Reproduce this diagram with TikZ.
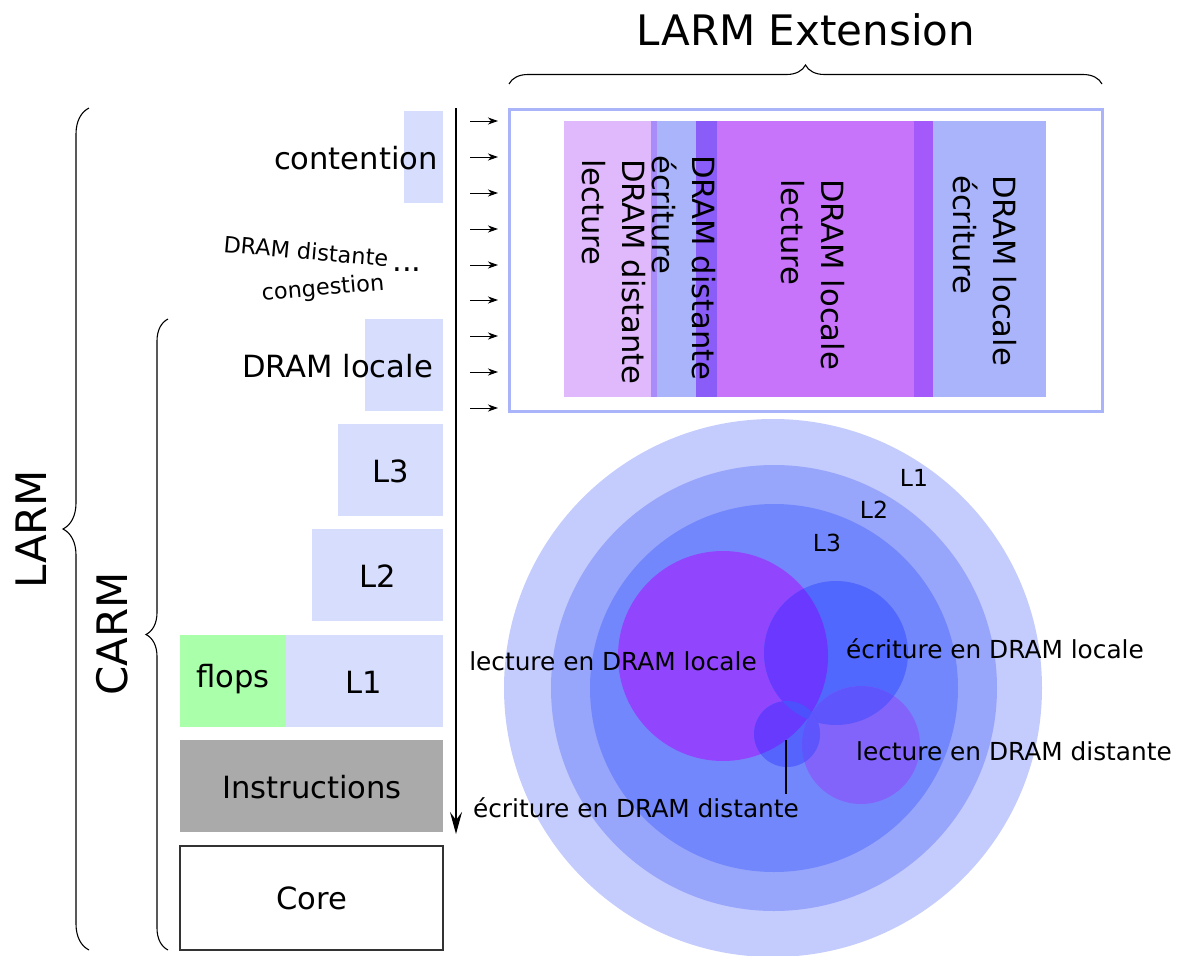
\documentclass[tikz,border=0pt]{standalone}
\usepackage{fontspec}
\setmainfont{DejaVu Sans}
\usetikzlibrary{decorations.pathreplacing,arrows.meta}
\definecolor{lav}{RGB}{215,221,252}
\definecolor{flopgreen}{RGB}{170,255,170}
\definecolor{instgray}{RGB}{170,170,170}
\definecolor{coreedge}{RGB}{51,51,51}
\definecolor{frameblue}{RGB}{170,180,248}
\definecolor{colpink}{RGB}{224,184,252}
\definecolor{colstripA}{RGB}{167,140,250}
\definecolor{colblue}{RGB}{170,180,250}
\definecolor{colstripB}{RGB}{138,92,248}
\definecolor{colmag}{RGB}{199,116,250}
\definecolor{colstripC}{RGB}{164,90,250}
\definecolor{ringA}{RGB}{196,203,253}
\definecolor{ringB}{RGB}{151,165,251}
\definecolor{ringC}{RGB}{115,135,252}
\definecolor{cP}{RGB}{145,70,253}
\definecolor{cEL}{RGB}{80,104,253}
\definecolor{cPEL}{RGB}{106,56,254}
\definecolor{cLD}{RGB}{130,100,251}
\definecolor{cELLD}{RGB}{94,86,252}
\definecolor{cED}{RGB}{84,100,252}
\definecolor{cEDP}{RGB}{104,58,254}
\definecolor{cEDEL}{RGB}{76,80,253}
\begin{document}
\begin{tikzpicture}[x=1pt,y=-1pt,
  rbox/.style={draw=none,inner sep=0pt,outer sep=0pt,anchor=north west},
  big/.style={font=\fontsize{30.6}{38}\selectfont,inner sep=0pt},
  colt/.style={font=\fontsize{30.6}{40}\selectfont,inner sep=0pt,rotate=-90,anchor=west,align=left},
  huge/.style={font=\fontsize{42}{50}\selectfont,inner sep=0pt},
  mid/.style={font=\fontsize{24.8}{30}\selectfont,inner sep=0pt},
  lvl/.style={font=\fontsize{23.5}{28}\selectfont,inner sep=0pt},
  tilt/.style={font=\fontsize{22.4}{27}\selectfont,inner sep=0pt},
  bracestyle/.style={decorate,line width=1.1pt},
  smallarrow/.style={line width=1pt,-{Stealth[length=10pt,width=7pt,inset=3pt]}},
  mainarrow/.style={line width=1.5pt,-{Stealth[length=22pt,width=12pt,inset=8pt]}}]
\useasboundingbox (0,0) rectangle (1187,956);

% ---------- left stack ----------
\node[rbox,fill=white,draw=coreedge,line width=1.5pt,minimum width=263pt,minimum height=104pt] (core) at (180,846) {};
\node[big] (coret) at (312,898) {Core};
\node[rbox,fill=instgray,minimum width=263pt,minimum height=92pt] (instr) at (180,740) {};
\node[big] (instrt) at (312,787) {Instructions};
\node[rbox,fill=flopgreen,minimum width=106pt,minimum height=92pt] (flops) at (180,635) {};
\node[big] (flopst) at (233,679) {flops};
\node[rbox,fill=lav,minimum width=157pt,minimum height=92pt] (lone) at (286,635) {};
\node[big] (lonet) at (364,682) {L1};
\node[rbox,fill=lav,minimum width=131pt,minimum height=92pt] (ltwo) at (312,529) {};
\node[big] (ltwot) at (378,576) {L2};
\node[rbox,fill=lav,minimum width=105pt,minimum height=92pt] (lthree) at (338,424) {};
\node[big] (lthreet) at (391,471) {L3};
\node[rbox,fill=lav,minimum width=78pt,minimum height=92pt] (dram) at (365,319) {};
\node[big,anchor=east] (dramt) at (433,366) {DRAM locale};
\node[rbox,fill=lav,minimum width=39pt,minimum height=92pt] (cont) at (404,111) {};
\node[big,anchor=east] (contt) at (438,158) {contention};
\node[tilt,rotate=-5] (distt) at (306,251) {DRAM distante};
\node[tilt,rotate=5] (congt) at (323,289) {congestion};
\node[big] (dots) at (407,270) {...};

% ---------- braces ----------
\node[huge,rotate=90] (larm) at (31,529) {LARM};
\node[huge,rotate=90] (carm) at (112,634) {CARM};
\coordinate (larmtop) at (89,108);
\coordinate (larmbot) at (89,950);
\draw[bracestyle,decoration={brace,amplitude=26pt}] (larmbot) -- (larmtop);
\coordinate (carmtop) at (168,319);
\coordinate (carmbot) at (168,950);
\draw[bracestyle,decoration={brace,amplitude=22pt}] (carmbot) -- (carmtop);
\coordinate (extleft) at (509,84);
\coordinate (extright) at (1102,84);
\draw[bracestyle,decoration={brace,amplitude=19pt}] (extleft) -- (extright);
\node[huge] (extt) at (806,30) {LARM Extension};

% ---------- arrows ----------
\coordinate (atop) at (456,108);
\coordinate (abot) at (456,834);
\draw[mainarrow] (atop) -- (abot);
\foreach \i/\yy in {1/121,2/157,3/193,4/229,5/265,6/300,7/336,8/372,9/408}{
  \coordinate (sa\i) at (470,\yy);
  \coordinate (sb\i) at (498,\yy);
  \draw[smallarrow] (sa\i) -- (sb\i);
}

% ---------- extension box ----------
\node[rbox,fill=colpink,minimum width=87pt,minimum height=276pt] (cpink) at (564,121) {};
\node[rbox,fill=colstripA,minimum width=6pt,minimum height=276pt] (csa) at (651,121) {};
\node[rbox,fill=colblue,minimum width=39pt,minimum height=276pt] (cblue) at (657,121) {};
\node[rbox,fill=colstripB,minimum width=21pt,minimum height=276pt] (csb) at (696,121) {};
\node[rbox,fill=colmag,minimum width=197pt,minimum height=276pt] (cmag) at (717,121) {};
\node[rbox,fill=colstripC,minimum width=19pt,minimum height=276pt] (csc) at (914,121) {};
\node[rbox,fill=colblue,minimum width=113pt,minimum height=276pt] (cblue2) at (933,121) {};
\node[rbox,draw=frameblue,line width=3pt,minimum width=593pt,minimum height=302pt] (extbox) at (509,109) {};
\node[colt] (tpink) at (614,159) {DRAM distante\\lecture};
\node[colt] (tblue) at (684,155) {DRAM distante\\écriture};
\node[colt] (tmag) at (813,179) {DRAM locale\\lecture};
\node[colt] (tblue2) at (985,175) {DRAM locale\\écriture};

% ---------- circles ----------
\fill[ringA] (773,688) circle[radius=269pt];
\fill[ringB] (774,688) circle[radius=223pt];
\fill[ringC] (774,688) circle[radius=184pt];
\fill[cP] (723,656) circle[radius=105pt];
\fill[cEL] (836,653) circle[radius=72pt];
\fill[cLD] (861,745) circle[radius=59pt];
\fill[cED] (787,734) circle[radius=33pt];
\begin{scope}
  \clip (723,656) circle[radius=105pt];
  \fill[cPEL] (836,653) circle[radius=72pt];
  \fill[cEDP] (787,734) circle[radius=33pt];
\end{scope}
\begin{scope}
  \clip (836,653) circle[radius=72pt];
  \fill[cELLD] (861,745) circle[radius=59pt];
  \fill[cEDEL] (787,734) circle[radius=33pt];
\end{scope}
\begin{scope}
  \clip (861,745) circle[radius=59pt];
  \fill[cELLD] (787,734) circle[radius=33pt];
\end{scope}
\node[lvl] (rl1) at (914,478) {L1};
\node[lvl] (rl2) at (874,510) {L2};
\node[lvl] (rl3) at (827,543) {L3};
\node[mid] (lecloc) at (613,661) {lecture en DRAM locale};
\node[mid] (ecrloc) at (995,649) {écriture en DRAM locale};
\node[mid] (lecdist) at (1014,751) {lecture en DRAM distante};
\node[mid] (ecrdist) at (636,808) {écriture en DRAM distante};
\coordinate (edtop) at (786,740);
\coordinate (edbot) at (786,794);
\draw[line width=1.2pt] (edtop) -- (edbot);
\end{tikzpicture}
\end{document}
